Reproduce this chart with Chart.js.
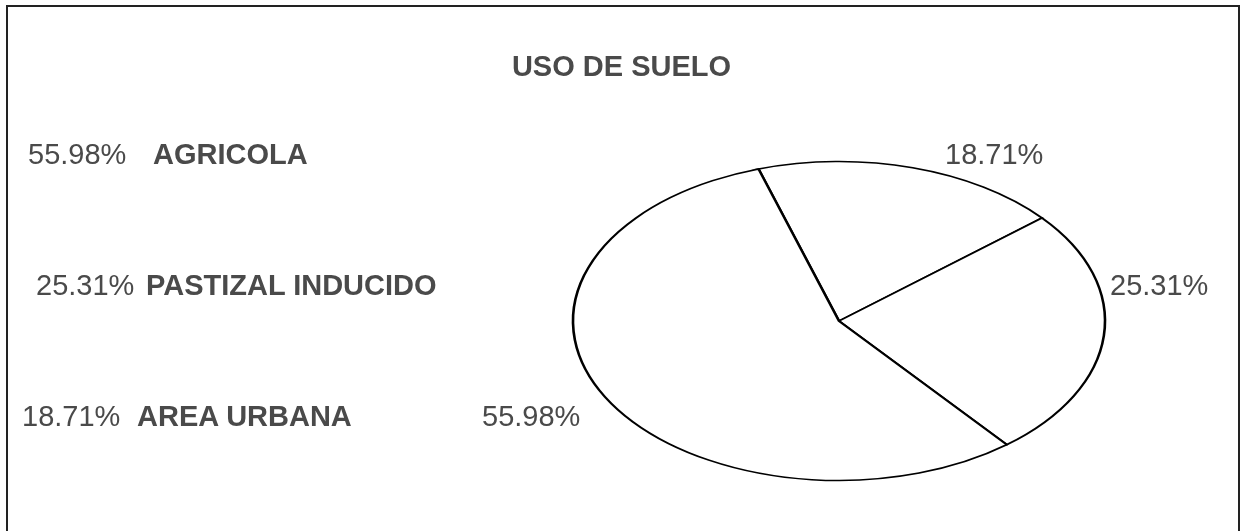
<!DOCTYPE html>
<html>
<head>
<meta charset="utf-8">
<script src="https://cdn.jsdelivr.net/npm/chart.js@4/dist/chart.umd.min.js"></script>
<style>
  html, body { margin: 0; padding: 0; background: #fff; overflow: hidden; }
  #wrap { position: relative; width: 1243px; height: 531px; }
  #frame { position: absolute; left: 6px; top: 5px; width: 1230px; height: 560px; border: 2px solid #222; }
  canvas { position: absolute; left: 0; top: 0; }
  .t { position: absolute; font-family: "Liberation Sans", Arial, sans-serif; font-size: 29px; line-height: 29px; color: #4a4a4a; white-space: nowrap; }
  .b { font-weight: bold; }
</style>
</head>
<body>
<div id="wrap">
  <div id="frame"></div>
  <canvas id="pie" width="1243" height="531"></canvas>
</div>
<script>
// datos
const titulo = 'USO DE SUELO';
const categorias = ['AGRICOLA', 'PASTIZAL INDUCIDO', 'AREA URBANA'];
const porcentajes = [55.98, 25.31, 18.71];
// orden en el pastel (sentido horario desde arriba)
const ordenPastel = [2, 1, 0];

// posicion de la elipse
const CX = 839, CY = 321, RX = 266, RY = 159.5;

const wrap = document.getElementById('wrap');
function addText(txt, x, y, cls) {
    const d = document.createElement('div');
    d.className = 't ' + (cls || '');
    d.textContent = txt;
    d.style.left = x + 'px';
    d.style.top = y + 'px';
    wrap.appendChild(d);
    return d;
}

// titulo centrado
const tt = addText(titulo, 0, 52, 'b');
tt.style.left = '0px';
tt.style.width = '1243px';
tt.style.textAlign = 'center';

// leyenda de la izquierda
const leyendaPos = [
    { px: 28, nx: 153, y: 140 },
    { px: 36, nx: 146, y: 271 },
    { px: 22, nx: 137, y: 402 }
];
categorias.forEach((c, i) => {
    const p = leyendaPos[i];
    addText(porcentajes[i].toFixed(2) + '%', p.px, p.y);
    addText(c, p.nx, p.y, 'b');
});

// etiquetas alrededor del pastel
const etiquetaPos = [
    { x: 482, y: 402 },  // agricola
    { x: 1110, y: 271 }, // pastizal
    { x: 945, y: 140 }   // area urbana
];
porcentajes.forEach((v, i) => {
    addText(v.toFixed(2) + '%', etiquetaPos[i].x, etiquetaPos[i].y);
});

// aplasta el pastel para que quede como elipse
const elipse = {
    id: 'elipse',
    beforeDatasetsDraw(chart) {
        const arc = chart.getDatasetMeta(0).data[0];
        const s = arc.outerRadius;
        const ctx = chart.ctx;
        ctx.save();
        ctx.translate(CX, CY);
        ctx.scale(RX / s, RY / s);
        ctx.translate(-arc.x, -arc.y);
    },
    afterDatasetsDraw(chart) {
        chart.ctx.restore();
    }
};

const ctx = document.getElementById('pie').getContext('2d');
const chart = new Chart(ctx, {
    type: 'pie',
    data: {
        labels: ordenPastel.map(i => categorias[i]),
        datasets: [{
            data: ordenPastel.map(i => porcentajes[i]),
            backgroundColor: '#ffffff',
            borderColor: '#000000',
            borderWidth: 2.6,
            borderJoinStyle: 'miter'
        }]
    },
    options: {
        responsive: false,
        animation: false,
        events: [],
        rotation: -17.6,
        plugins: {
            legend: { display: false },
            tooltip: { enabled: false },
            title: { display: false }
        }
    },
    plugins: [elipse]
});
</script>
</body>
</html>
